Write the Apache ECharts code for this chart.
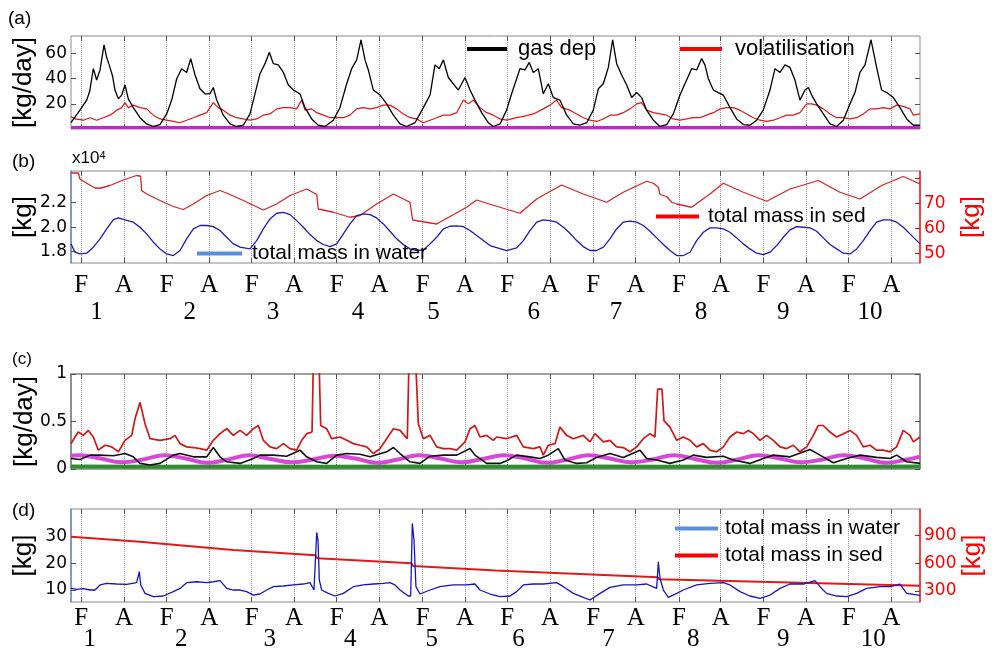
<!DOCTYPE html>
<html><head><meta charset="utf-8">
<script src="https://cdn.jsdelivr.net/npm/echarts@6/dist/echarts.min.js"></script>
<style>html,body{margin:0;padding:0;background:#fff}#c{width:994px;height:652px}</style>
</head><body><div id="c"></div>
<script>
// ---- time axis (years of simulation) ----
const monthTicks = [0.121,0.624,1.127,1.629,2.128,2.626,3.129,3.631,4.142,4.640,5.139,5.642,6.152,6.651,7.161,7.652,8.155,8.657,9.160,9.662];
const monthLabels = ['F','A','F','A','F','A','F','A','F','A','F','A','F','A','F','A','F','A','F','A'];
const yearPosB = [0.30,1.40,2.38,3.38,4.27,5.45,6.42,7.42,8.39,9.41];
const yearPosD = [0.22,1.30,2.34,3.29,4.25,5.27,6.33,7.33,8.39,9.45];
const yearLabels = ['1','2','3','4','5','6','7','8','9','10'];

// ---- panel (a) [kg/day] ----
const gasDep = [[0,5],[0.106,15],[0.185,23],[0.22,30],[0.263,48],[0.302,39],[0.342,47],[0.389,67],[0.420,57],[0.459,49],[0.49,42],[0.518,31],[0.558,24],[0.597,27],[0.636,35],[0.675,24],[0.734,17],[0.813,9],[0.891,4],[0.970,2],[1.048,3.5],[1.127,12],[1.186,23],[1.245,40],[1.303,48],[1.362,45],[1.410,56],[1.461,43],[1.519,32],[1.578,28],[1.637,28],[1.676,33],[1.716,23],[1.794,11],[1.873,4],[1.951,2],[2.030,3],[2.108,12],[2.167,28],[2.226,44],[2.285,52],[2.336,61],[2.383,52],[2.442,51],[2.501,45],[2.560,35],[2.619,31],[2.697,28],[2.756,17],[2.835,8],[2.913,3],[2.992,2],[3.090,7],[3.168,17],[3.247,36],[3.306,48],[3.365,55],[3.416,71],[3.463,55],[3.502,47],[3.561,31],[3.640,27],[3.718,20],[3.797,11],[3.875,4],[3.954,2],[4.052,5],[4.150,17],[4.229,27],[4.287,51],[4.338,48],[4.386,55],[4.444,41],[4.503,36],[4.562,31],[4.641,41],[4.700,31],[4.758,23],[4.837,13],[4.915,5],[4.974,2],[5.053,4],[5.131,15],[5.190,28],[5.249,40],[5.288,48],[5.347,47],[5.398,53],[5.445,45],[5.504,48],[5.563,28],[5.622,36],[5.681,25],[5.759,23],[5.838,11],[5.917,4],[5.995,3],[6.074,5],[6.152,15],[6.211,32],[6.270,36],[6.329,49],[6.380,71],[6.427,52],[6.486,43],[6.545,35],[6.604,25],[6.663,29],[6.721,25],[6.780,15],[6.859,7],[6.937,2],[7.016,3.5],[7.094,12],[7.173,27],[7.251,39],[7.310,48],[7.369,47],[7.428,56],[7.467,51],[7.507,40],[7.566,31],[7.624,29],[7.683,27],[7.762,17],[7.840,8],[7.919,3.5],[7.997,3],[8.076,7],[8.154,15],[8.233,31],[8.292,48],[8.351,45],[8.410,51],[8.469,49],[8.527,39],[8.586,23],[8.645,31],[8.685,33],[8.724,27],[8.783,20],[8.861,12],[8.940,4],[9.018,2],[9.097,7],[9.175,20],[9.234,29],[9.293,45],[9.352,51],[9.423,71],[9.489,49],[9.548,31],[9.607,29],[9.686,25],[9.764,17],[9.843,8],[9.922,3],[10,3]];
const volatilisation = [[0,10],[0.047,8],[0.145,7],[0.224,9],[0.302,7],[0.381,9],[0.459,11],[0.538,15],[0.597,17],[0.636,21],[0.675,17],[0.734,19],[0.813,17],[0.891,16],[0.970,11],[1.048,8],[1.127,7],[1.205,6],[1.284,5],[1.362,7],[1.441,9],[1.519,11],[1.598,13],[1.676,21],[1.735,17],[1.794,15],[1.873,11],[1.951,9],[2.030,8],[2.108,7],[2.187,8],[2.265,11],[2.344,12],[2.422,16],[2.501,17],[2.580,17],[2.658,16],[2.717,23],[2.756,15],[2.835,16],[2.894,13],[2.972,11],[3.051,9],[3.129,9],[3.208,9],[3.286,11],[3.365,16],[3.443,17],[3.522,16],[3.600,17],[3.679,19],[3.757,19],[3.836,16],[3.914,12],[3.993,9],[4.071,8],[4.150,5],[4.229,7],[4.307,9],[4.386,11],[4.464,11],[4.543,13],[4.621,23],[4.680,20],[4.739,23],[4.817,17],[4.896,13],[4.974,11],[5.053,8],[5.131,7],[5.249,9],[5.328,10],[5.445,12],[5.563,16],[5.642,19],[5.720,23],[5.779,17],[5.877,15],[5.956,12],[6.034,9],[6.113,7],[6.191,6],[6.270,8],[6.348,11],[6.427,11],[6.505,13],[6.584,16],[6.663,20],[6.721,21],[6.780,15],[6.859,13],[6.937,12],[7.016,11],[7.094,8],[7.173,7],[7.251,8],[7.330,9],[7.408,9],[7.487,11],[7.566,13],[7.644,16],[7.723,17],[7.801,17],[7.880,15],[7.958,12],[8.037,9],[8.115,7],[8.194,6],[8.272,7],[8.351,9],[8.429,11],[8.508,11],[8.586,13],[8.665,20],[8.724,20],[8.783,19],[8.861,16],[8.940,12],[9.018,9],[9.097,9],[9.175,8],[9.254,9],[9.332,12],[9.411,16],[9.489,16],[9.568,17],[9.646,16],[9.725,19],[9.803,18],[9.882,16],[9.922,11],[10,12]];
const baseA = [[0,1.2],[1,1.1],[2,1.2],[3,1.1],[4,1.2],[5,1.1],[6,1.2],[7,1.1],[8,1.2],[9,1.1],[10,1.2]];

// ---- panel (b) ----
const waterB = [[0,1.864],[0.047,1.796],[0.106,1.782],[0.185,1.788],[0.263,1.837],[0.342,1.905],[0.420,1.986],[0.499,2.063],[0.558,2.076],[0.636,2.060],[0.734,2.041],[0.813,2.000],[0.891,1.946],[0.970,1.878],[1.048,1.823],[1.127,1.782],[1.205,1.769],[1.284,1.810],[1.362,1.905],[1.441,1.986],[1.519,2.014],[1.598,2.014],[1.676,2.005],[1.755,1.973],[1.833,1.918],[1.912,1.864],[1.991,1.837],[2.108,1.823],[2.187,1.891],[2.265,1.986],[2.344,2.068],[2.422,2.114],[2.501,2.122],[2.580,2.103],[2.658,2.054],[2.737,2.000],[2.815,1.940],[2.894,1.891],[2.972,1.859],[3.051,1.842],[3.129,1.864],[3.208,1.946],[3.286,2.027],[3.365,2.095],[3.443,2.109],[3.522,2.103],[3.600,2.076],[3.679,2.027],[3.757,1.967],[3.836,1.905],[3.914,1.859],[3.993,1.823],[4.071,1.810],[4.150,1.815],[4.229,1.864],[4.307,1.918],[4.386,1.986],[4.464,2.008],[4.543,2.011],[4.621,2.005],[4.700,1.973],[4.778,1.932],[4.857,1.891],[4.935,1.850],[5.131,1.810],[5.249,1.831],[5.328,1.891],[5.406,1.973],[5.485,2.041],[5.563,2.060],[5.642,2.054],[5.720,2.041],[5.799,2.000],[5.877,1.951],[5.956,1.891],[6.034,1.842],[6.113,1.810],[6.191,1.810],[6.270,1.837],[6.348,1.905],[6.427,1.986],[6.505,2.041],[6.584,2.049],[6.663,2.041],[6.741,2.014],[6.820,1.967],[6.898,1.913],[6.977,1.859],[7.055,1.810],[7.134,1.769],[7.212,1.769],[7.291,1.796],[7.369,1.891],[7.448,1.959],[7.526,1.995],[7.605,1.995],[7.683,1.986],[7.762,1.959],[7.840,1.913],[7.919,1.864],[7.997,1.823],[8.076,1.788],[8.154,1.777],[8.233,1.796],[8.312,1.850],[8.390,1.918],[8.469,1.978],[8.547,2.005],[8.626,2.000],[8.704,1.995],[8.783,1.967],[8.861,1.913],[8.940,1.859],[9.018,1.823],[9.097,1.788],[9.175,1.782],[9.254,1.823],[9.332,1.891],[9.411,1.973],[9.489,2.041],[9.568,2.060],[9.646,2.060],[9.725,2.041],[9.803,2.000],[9.882,1.946],[10,1.864]];
const sedB = [[0,82.1],[0.086,82.1],[0.106,79.7],[0.185,78.0],[0.283,76.1],[0.342,76.0],[0.459,77.1],[0.616,79.3],[0.773,81.1],[0.821,80.8],[0.832,75.1],[0.891,73.7],[1.048,71.1],[1.205,68.7],[1.323,67.5],[1.441,69.7],[1.598,73.1],[1.755,75.1],[1.873,73.5],[2.030,71.1],[2.265,67.3],[2.422,69.7],[2.580,73.1],[2.776,75.7],[2.894,73.5],[2.913,67.7],[3.090,66.4],[3.286,64.4],[3.404,65.1],[3.600,69.7],[3.797,73.7],[3.993,70.4],[4.024,63.3],[4.111,62.8],[4.307,61.7],[4.464,64.7],[4.660,68.4],[4.778,71.3],[4.896,70.0],[5.053,68.4],[5.288,66.0],[5.485,71.7],[5.779,77.3],[6.034,73.7],[6.309,70.4],[6.505,74.4],[6.780,78.8],[6.859,78.0],[6.918,76.4],[6.937,73.5],[7.016,72.7],[7.075,70.4],[7.134,69.7],[7.310,68.4],[7.526,73.7],[7.683,78.0],[7.919,74.4],[8.194,70.8],[8.469,75.7],[8.802,79.1],[9.057,74.4],[9.293,71.7],[9.548,77.1],[9.803,80.7],[10,77.7]];

// ---- panel (c) [kg/day] ----
const redC = [[0,0.267],[0.047,0.337],[0.086,0.389],[0.145,0.354],[0.204,0.406],[0.263,0.337],[0.322,0.198],[0.400,0.250],[0.479,0.233],[0.558,0.181],[0.636,0.302],[0.715,0.354],[0.754,0.528],[0.813,0.701],[0.872,0.476],[0.931,0.319],[1.048,0.302],[1.166,0.319],[1.225,0.354],[1.284,0.267],[1.362,0.233],[1.441,0.226],[1.519,0.215],[1.598,0.198],[1.676,0.302],[1.755,0.372],[1.834,0.424],[1.912,0.354],[1.991,0.406],[2.069,0.354],[2.148,0.424],[2.207,0.458],[2.265,0.302],[2.344,0.233],[2.422,0.215],[2.501,0.267],[2.580,0.215],[2.658,0.198],[2.717,0.302],[2.776,0.372],[2.839,0.389],[2.858,1.3],[2.917,1.3],[2.941,0.458],[3.011,0.424],[3.070,0.319],[3.168,0.337],[3.247,0.302],[3.326,0.267],[3.404,0.250],[3.483,0.233],[3.561,0.163],[3.640,0.215],[3.718,0.319],[3.797,0.424],[3.875,0.406],[3.961,0.319],[3.985,1.3],[4.052,1.3],[4.091,0.476],[4.150,0.319],[4.229,0.354],[4.307,0.233],[4.386,0.215],[4.464,0.215],[4.543,0.198],[4.641,0.285],[4.700,0.424],[4.758,0.458],[4.817,0.337],[4.896,0.354],[4.974,0.302],[5.014,0.337],[5.131,0.319],[5.249,0.354],[5.328,0.233],[5.445,0.215],[5.524,0.233],[5.563,0.146],[5.622,0.250],[5.701,0.267],[5.759,0.441],[5.838,0.354],[5.917,0.319],[6.034,0.354],[6.113,0.285],[6.172,0.372],[6.270,0.285],[6.348,0.302],[6.427,0.233],[6.505,0.226],[6.584,0.181],[6.663,0.233],[6.741,0.319],[6.820,0.372],[6.878,0.337],[6.910,0.84],[6.961,0.84],[6.984,0.510],[7.055,0.441],[7.134,0.302],[7.212,0.337],[7.291,0.302],[7.369,0.233],[7.448,0.267],[7.526,0.198],[7.605,0.181],[7.683,0.233],[7.762,0.337],[7.840,0.389],[7.919,0.372],[7.978,0.406],[8.037,0.372],[8.115,0.302],[8.194,0.354],[8.272,0.302],[8.351,0.233],[8.429,0.215],[8.508,0.250],[8.586,0.181],[8.665,0.233],[8.743,0.354],[8.802,0.458],[8.861,0.458],[8.940,0.389],[9.018,0.337],[9.097,0.372],[9.175,0.406],[9.254,0.354],[9.332,0.233],[9.411,0.250],[9.489,0.198],[9.568,0.198],[9.646,0.181],[9.725,0.233],[9.803,0.406],[9.882,0.354],[9.922,0.285],[10,0.337]];
const blackC = [[0,0.11],[0.106,0.10],[0.224,0.146],[0.342,0.146],[0.499,0.14],[0.636,0.163],[0.734,0.128],[0.813,0.059],[0.931,0.042],[1.048,0.059],[1.205,0.146],[1.284,0.163],[1.441,0.128],[1.598,0.128],[1.676,0.226],[1.755,0.128],[1.834,0.076],[1.991,0.059],[2.148,0.111],[2.226,0.146],[2.383,0.146],[2.540,0.135],[2.697,0.198],[2.776,0.128],[2.894,0.076],[3.011,0.059],[3.129,0.146],[3.247,0.163],[3.404,0.156],[3.522,0.128],[3.718,0.181],[3.797,0.226],[3.875,0.163],[3.993,0.076],[4.111,0.059],[4.229,0.135],[4.386,0.146],[4.543,0.146],[4.700,0.215],[4.758,0.146],[4.896,0.059],[5.053,0.059],[5.131,0.087],[5.249,0.146],[5.406,0.128],[5.524,0.111],[5.622,0.146],[5.740,0.215],[5.818,0.094],[5.956,0.059],[6.074,0.066],[6.191,0.122],[6.348,0.163],[6.505,0.122],[6.702,0.198],[6.780,0.111],[6.898,0.094],[7.055,0.059],[7.212,0.094],[7.330,0.146],[7.487,0.122],[7.683,0.135],[7.801,0.094],[7.997,0.059],[8.154,0.111],[8.272,0.146],[8.469,0.128],[8.704,0.205],[8.822,0.146],[8.979,0.066],[9.136,0.111],[9.293,0.146],[9.489,0.122],[9.646,0.111],[9.725,0.146],[9.843,0.076],[10,0.059]];
const magentaC = [[0,0.14],[0.1,0.145],[0.35,0.11],[0.6,0.07],[0.85,0.1],[1.1,0.145],[1.35,0.11],[1.6,0.065],[1.85,0.1],[2.1,0.145],[2.35,0.105],[2.6,0.07],[2.85,0.1],[3.1,0.14],[3.35,0.11],[3.6,0.065],[3.85,0.1],[4.1,0.145],[4.35,0.11],[4.6,0.07],[4.85,0.105],[5.1,0.145],[5.35,0.11],[5.6,0.065],[5.85,0.1],[6.1,0.145],[6.35,0.11],[6.6,0.07],[6.85,0.1],[7.1,0.145],[7.35,0.105],[7.6,0.065],[7.85,0.1],[8.1,0.145],[8.35,0.11],[8.6,0.07],[8.85,0.1],[9.1,0.145],[9.35,0.11],[9.6,0.065],[9.85,0.1],[10,0.13]];
const greenC = [[0,0.026],[1,0.025],[2,0.026],[3,0.025],[4,0.026],[5,0.025],[6,0.026],[7,0.025],[8,0.026],[9,0.025],[10,0.026]];

// ---- panel (d) ----
const waterD = [[0,10.6],[0.067,10.25],[0.145,10.5],[0.224,10.0],[0.283,10.0],[0.342,11.9],[0.420,12.5],[0.538,12.25],[0.656,12.1],[0.773,12.75],[0.805,16.9],[0.821,11.9],[0.872,8.75],[0.970,7.5],[1.088,7.75],[1.205,9.4],[1.284,10.6],[1.362,12.75],[1.480,13.1],[1.598,12.75],[1.676,13.1],[1.755,13.5],[1.834,10.6],[1.912,10.0],[1.991,10.0],[2.069,9.4],[2.148,8.1],[2.226,8.5],[2.305,10.0],[2.383,11.25],[2.501,11.5],[2.619,11.9],[2.737,12.25],[2.815,12.75],[2.862,10.0],[2.894,31.6],[2.909,28.75],[2.925,13.75],[2.952,10.0],[3.031,8.75],[3.110,7.75],[3.208,8.75],[3.326,11.25],[3.443,11.9],[3.561,12.25],[3.679,12.5],[3.757,12.75],[3.816,11.9],[3.875,10.0],[3.973,7.75],[4.001,7.75],[4.020,35.0],[4.040,28.75],[4.063,11.25],[4.111,8.5],[4.229,10.0],[4.346,11.25],[4.503,11.9],[4.660,11.9],[4.758,12.25],[4.817,10.0],[4.935,8.5],[5.053,7.5],[5.171,7.75],[5.249,9.4],[5.328,11.9],[5.445,12.25],[5.563,12.25],[5.720,12.75],[5.799,11.25],[5.917,8.75],[6.034,7.25],[6.113,6.25],[6.231,8.75],[6.348,11.0],[6.505,11.9],[6.663,11.9],[6.780,12.25],[6.898,10.6],[6.918,20.6],[6.937,14.4],[6.977,10.0],[7.036,7.25],[7.134,8.75],[7.212,10.0],[7.369,11.9],[7.526,12.5],[7.683,12.75],[7.762,11.9],[7.880,9.4],[7.997,7.75],[8.115,6.9],[8.233,8.1],[8.351,10.6],[8.469,12.25],[8.626,12.25],[8.763,13.5],[8.822,11.25],[8.900,8.75],[9.018,7.75],[9.136,7.5],[9.254,8.75],[9.372,10.6],[9.528,11.25],[9.646,11.25],[9.764,12.25],[9.843,8.75],[10,8.0]];
const sedD = [[0,889],[0.81,835],[0.83,828],[1.91,745],[2.88,687],[2.90,654],[4.01,600],[4.03,571],[5.0,522],[6.91,448],[6.93,426],[10,357]];

const SANS = 'Liberation Sans';
const TICKFONT = 'DejaVu Sans';
const SERIF = 'Liberation Serif';
const BLUE_AX = '#5b8fd9';
const RED_AX = '#ff1a1a';
const FRAME = '#8a8a8a';

function tickLabel(list, labels){
  return function(v){
    let best = 0, bd = 1e9;
    list.forEach((m,i)=>{const d=Math.abs(m-v); if(d<bd){bd=d;best=i;}});
    return labels[best];
  };
}
function monthAxis(gi, showLabels, margin){
  return {type:'value', gridIndex:gi, min:0, max:10, position:'bottom',
    axisLine:{show:false, onZero:false},
    axisTick:{show:true, inside:true, length:5, customValues:monthTicks, lineStyle:{color:'#555'}},
    splitLine:{show:true, lineStyle:{type:'dotted', color:'#9a9a9a', width:1}},
    axisLabel:{show:showLabels, customValues:monthTicks, formatter:tickLabel(monthTicks, monthLabels),
      margin:margin, fontFamily:SERIF, fontSize:25, color:'#000', hideOverlap:false}};
}
function topAxis(gi){
  return {type:'value', gridIndex:gi, min:0, max:10, position:'top',
    axisLine:{show:false, onZero:false},
    axisTick:{show:true, inside:true, length:5, customValues:monthTicks, lineStyle:{color:'#555'}},
    splitLine:{show:false}, axisLabel:{show:false}};
}
function yearAxis(gi, pos, offset, margin){
  return {type:'value', gridIndex:gi, min:0, max:10, position:'bottom', offset:offset,
    axisLine:{show:false, onZero:false}, axisTick:{show:false}, splitLine:{show:false},
    axisLabel:{customValues:pos, formatter:tickLabel(pos, yearLabels), margin:margin,
      fontFamily:SERIF, fontSize:25, color:'#000', hideOverlap:false}};
}
function yAx(gi, min, max, ticks, fmt, opts){
  const o = Object.assign({color:'#000', lineColor:FRAME, showLine:false, pos:'left', name:'', gap:34, showLabel:true}, opts||{});
  return {type:'value', gridIndex:gi, min:min, max:max, position:o.pos,
    axisLine:{show:o.showLine, onZero:false, lineStyle:{color:o.lineColor, width:o.lineWidth||1.5}},
    axisTick:{show:true, inside:true, length:5, customValues:ticks, lineStyle:{color:o.tickColor||'#555'}},
    splitLine:{show:false},
    axisLabel:{show:o.showLabel, customValues:ticks, formatter:fmt, margin:4, fontFamily:TICKFONT, fontSize:17, color:o.color},
    name:o.name, nameLocation:'middle', nameGap:o.gap, nameRotate:90, nameMoveOverlap:false,
    nameTextStyle:{fontFamily:SANS, fontSize:26, color:o.color}};
}
function line(name, xi, yi, data, color, width, extra){
  return Object.assign({type:'line', name:name, xAxisIndex:xi, yAxisIndex:yi, data:data,
    showSymbol:false, symbol:'none', animation:false, clip:true,
    lineStyle:{color:color, width:width}, itemStyle:{color:color}}, extra||{});
}
function leg(name, left, top, w, color, fs, pad){
  return {left:left, top:top, padding:0, itemWidth:w, itemHeight:4, icon:'rect', selectedMode:false,
    textStyle:{fontFamily:SANS, fontSize:fs, color:'#000', padding:[0,0,0,pad]},
    data:[{name:name, icon:'rect', itemStyle:{color:color}}]};
}
function gridBox(top, height, border, bw){
  return {left:71, right:74, top:top, height:height, show:true, borderColor:border, borderWidth:bw,
    backgroundColor:'transparent', containLabel:false, outerBoundsMode:'none'};
}

const chart = echarts.init(document.getElementById('c'), null, {renderer:'canvas'});
chart.setOption({
  animation:false,
  backgroundColor:'#fff',
  title:[
    {text:'(a)', left:8, top:9, padding:0, textStyle:{fontFamily:SANS, fontSize:19, fontWeight:'normal', color:'#000'}},
    {text:'(b)', left:12, top:152, padding:0, textStyle:{fontFamily:SANS, fontSize:19, fontWeight:'normal', color:'#000'}},
    {text:'x10{s|4}', left:72, top:150, padding:0, textStyle:{fontFamily:SANS, fontSize:17, fontWeight:'normal', color:'#000',
      rich:{s:{fontFamily:SANS, fontSize:11, verticalAlign:'top', lineHeight:11, color:'#000'}}}},
    {text:'(c)', left:12, top:351, padding:0, textStyle:{fontFamily:SANS, fontSize:17, fontWeight:'normal', color:'#000'}},
    {text:'(d)', left:12, top:501, padding:0, textStyle:{fontFamily:SANS, fontSize:19, fontWeight:'normal', color:'#000'}}
  ],
  legend:[
    leg('gas dep', 467, 38, 40, '#000', 22, 6),
    leg('volatilisation', 680, 38, 42, '#ff0000', 22, 8),
    leg('total mass in water', 197, 243, 45, BLUE_AX, 21, 5),
    leg('total mass in sed', 656, 206, 43, '#ff0000', 21, 4),
    leg('total mass in water', 675, 518, 43, BLUE_AX, 21, 2),
    leg('total mass in sed', 675, 545, 43, '#ff0000', 21, 2)
  ],
  grid:[
    gridBox(36, 93, FRAME, 1),
    gridBox(171, 92, FRAME, 1),
    gridBox(374, 95, '#444', 1.2),
    gridBox(509, 93, FRAME, 1)
  ],
  xAxis:[
    monthAxis(0, false, 8),
    monthAxis(1, true, 10),
    yearAxis(1, yearPosB, 27, 10),
    monthAxis(2, false, 8),
    monthAxis(3, true, 4),
    yearAxis(3, yearPosD, 21, 4),
    topAxis(0), topAxis(1), topAxis(2), topAxis(3)
  ],
  yAxis:[
    yAx(0, 0, 74, [20,40,60], v=>String(v), {name:'[kg/day]'}),
    yAx(1, 1.708, 2.459, [1.8,2.0,2.2], v=>v.toFixed(1), {name:'[kg]', showLine:true, lineColor:BLUE_AX}),
    yAx(1, 46.1, 82.9, [50,60,70,80], v=>(v===80?'':String(v)), {name:'[kg]', pos:'right', showLine:true, lineColor:RED_AX, color:'#ff0000', tickColor:'#ff0000', gap:39}),
    yAx(2, 0, 1, [0,0.5,1], v=>String(v), {name:'[kg/day]', gap:33}),
    yAx(3, 5.5, 40.4, [10,20,30], v=>String(v), {name:'[kg]', showLine:true, lineColor:BLUE_AX}),
    yAx(3, 180, 1190, [300,600,900], v=>String(v), {name:'[kg]', pos:'right', showLine:true, lineColor:RED_AX, color:'#ff0000', tickColor:'#ff0000', gap:40}),
    yAx(0, 0, 74, [20,40,60], v=>'', {pos:'right', showLabel:false}),
    yAx(2, 0, 1, [0,0.5,1], v=>'', {pos:'right', showLabel:false})
  ],
  series:[
    line('magenta a', 0, 0, baseA, '#c822c8', 3),
    line('volatilisation', 0, 0, volatilisation, '#e01818', 1.2),
    line('gas dep', 0, 0, gasDep, '#000000', 1.3),
    line('total mass in sed', 1, 2, sedB, '#d42626', 1.3),
    line('total mass in water', 1, 1, waterB, '#1c1cb0', 1.3),
    line('green c', 3, 3, greenC, '#2e8f2e', 4),
    line('magenta c', 3, 3, magentaC, '#d848d8', 4, {smooth:0.4}),
    line('black c', 3, 3, blackC, '#111111', 1.6),
    line('red c', 3, 3, redC, '#d01818', 1.7),
    line('total mass in sed', 4, 5, sedD, '#e01a1a', 2),
    line('total mass in water', 4, 4, waterD, '#1515c0', 1.3)
  ]
});
</script>
</body></html>
